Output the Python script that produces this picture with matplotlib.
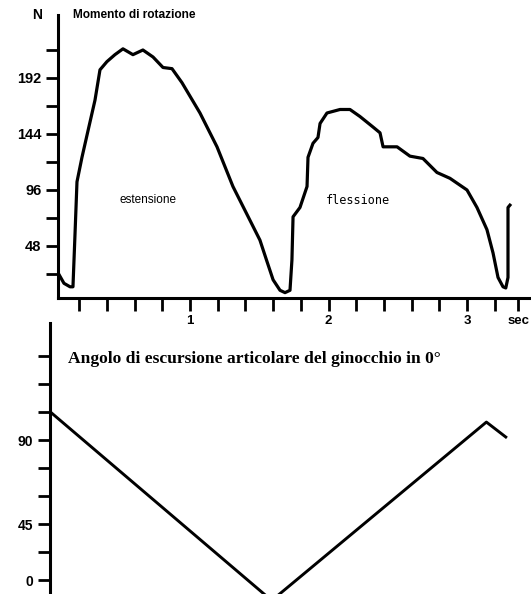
import matplotlib
matplotlib.use('Agg')
import matplotlib.pyplot as plt
import numpy as np

# momento di rotazione (N) over time (sec)
torque_t = [0.047, 0.09, 0.134, 0.155, 0.17, 0.184, 0.22, 0.264, 0.314, 0.35,
            0.40, 0.458, 0.516, 0.588, 0.66, 0.733, 0.805, 0.87, 0.942, 1.072,
            1.195, 1.31, 1.433, 1.505, 1.555, 1.60, 1.65, 1.686, 1.722, 1.736,
            1.744, 1.794, 1.845, 1.852, 1.888, 1.924, 1.939, 1.989, 2.083, 2.155,
            2.227, 2.321, 2.372, 2.394, 2.495, 2.588, 2.682, 2.783, 2.877, 3.0,
            3.072, 3.144, 3.188, 3.224, 3.26, 3.28, 3.296, 3.296, 3.31]
torque_n = [25, 16, 13, 13, 59, 103, 124, 147, 173, 199,
            206, 212, 217, 212, 216, 210, 201, 200, 188, 162,
            133, 99, 70, 53, 35, 19, 10, 8, 10, 36,
            73, 81, 99, 124, 136, 141, 153, 162, 165, 165,
            159, 150, 145, 133, 133, 125, 123, 111, 106, 96,
            81, 62, 42, 21, 13, 12, 21, 81, 83]

# angolo del ginocchio (gradi) over time (sec)
angle_t = [0.0, 1.59, 3.14, 3.28]
angle_deg = [104.5, 4.0, 99.6, 91.6]

torque_ticks = [24, 48, 72, 96, 120, 144, 168, 192, 216]
torque_labels = ['', '48', '', '96', '', '144', '', '192', '']
time_ticks = [0.2, 0.4, 0.6, 0.8, 1.0, 1.2, 1.4, 1.6, 1.8, 2.0, 2.2, 2.4,
              2.6, 2.8, 3.0, 3.2, 3.37]
time_labels = ['', '', '', '', '1', '', '', '', '', '2', '', '', '', '', '3', '', 'sec']
angle_ticks = [15, 30, 45, 60, 75, 90, 105, 120, 135]
angle_labels = ['0', '', '45', '', '', '90', '', '', '']

W, H = 531.0, 594.0


def px_axes(fig, left, top, right, bottom):
    return fig.add_axes([left / W, 1 - bottom / H, (right - left) / W, (bottom - top) / H])


def clean(ax):
    for s in ['top', 'right']:
        ax.spines[s].set_visible(False)
    ax.patch.set_alpha(0)


fig = plt.figure(figsize=(W / 100, H / 100), dpi=100)
bold = dict(family='Liberation Sans', weight='bold')

# top panel
ax = px_axes(fig, 58, 15, 531, 298)
clean(ax)
ax.plot(torque_t, torque_n, color='black', lw=2.3, solid_joinstyle='round')
ax.set_xlim((58 - 51.5) / 138.5, (531 - 51.5) / 138.5)
ax.set_ylim(3.4, 246)
ax.spines['left'].set_linewidth(2.2)
ax.spines['bottom'].set_linewidth(2.2)
ax.set_yticks(torque_ticks)
ax.set_yticklabels(torque_labels, fontsize=10.5, **bold)
ax.set_xticks(time_ticks)
ax.set_xticklabels(time_labels, fontsize=9.5, **bold)
ax.tick_params(axis='both', length=9, width=2, pad=3, color='black')
ax.text(-0.045, 1.0, 'N', transform=ax.transAxes, ha='center', va='center', fontsize=10, **bold)
ax.text(0.032, 1.0, 'Momento di rotazione', transform=ax.transAxes, ha='left', va='center',
        fontsize=8.6, **bold)
ax.text(0.70, 87, 'estensione', ha='center', va='center', fontsize=8.5, family='Liberation Sans')
ax.text(2.21, 87, 'flessione', ha='center', va='center', fontsize=8.5, family='DejaVu Sans Mono')

# bottom panel
ax2 = px_axes(fig, 50, 323, 531, 630)
clean(ax2)
ax2.spines['bottom'].set_visible(False)
ax2.plot(angle_t, angle_deg, color='black', lw=2.1)
ax2.set_xlim((50 - 51.5) / 138.5, (531 - 51.5) / 138.5)
ax2.set_ylim(90 - (630 - 440) * 15 / 28.0, 90 + (440 - 323) * 15 / 28.0)
ax2.spines['left'].set_linewidth(2.2)
ax2.set_xticks([])
ax2.set_yticks(angle_ticks)
ax2.set_yticklabels(angle_labels, fontsize=10, **bold)
ax2.tick_params(axis='y', length=9, width=2, pad=3)
ax2.text(0.12, 90 + (440 - 359) * 15 / 28.0, 'Angolo di escursione articolare del ginocchio in 0\u00b0',
         ha='left', va='center', fontsize=12.6, family='Liberation Serif', weight='bold')

fig.savefig('out.png', dpi=100)
